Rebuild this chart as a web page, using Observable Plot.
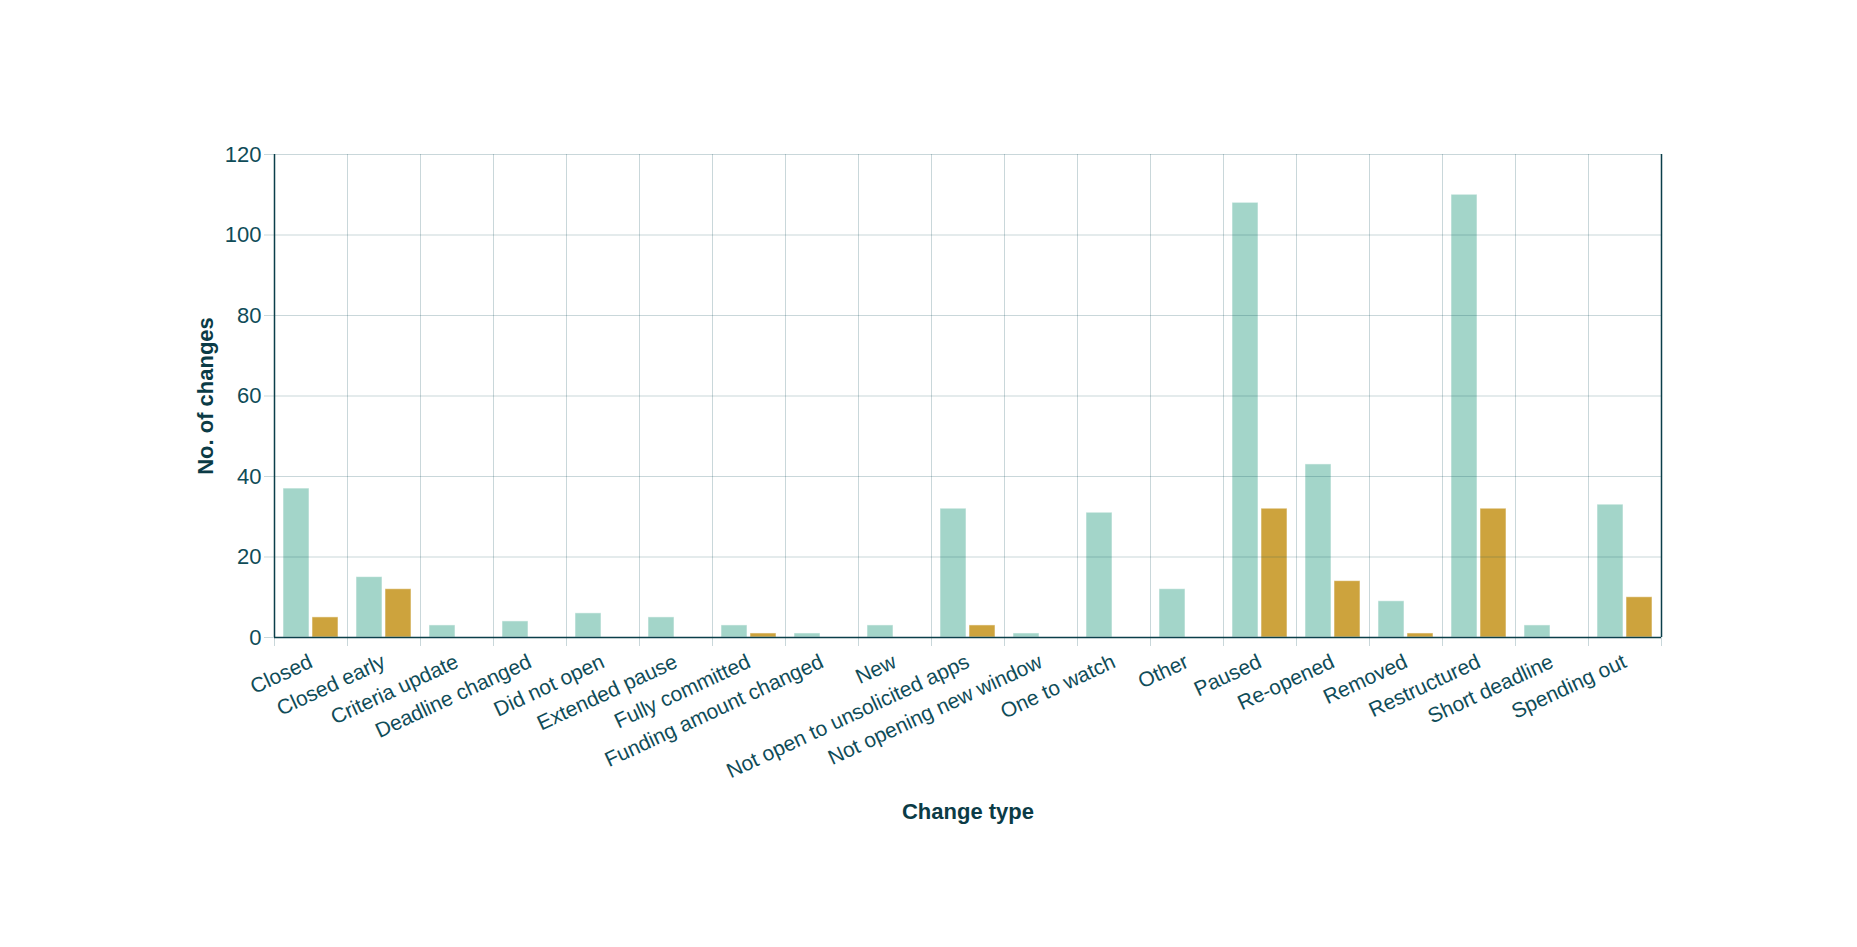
<!DOCTYPE html>
<html>
<head>
<meta charset="utf-8">
<script src="https://cdn.jsdelivr.net/npm/d3@7"></script>
<script src="https://cdn.jsdelivr.net/npm/@observablehq/plot@0.6"></script>
<style>
  html, body { margin: 0; padding: 0; background: #fff; }
  #chart svg { display: block; }
</style>
</head>
<body>
<div id="chart"></div>
<script>
const categories = [
  "Closed", "Closed early", "Criteria update", "Deadline changed", "Did not open",
  "Extended pause", "Fully committed", "Funding amount changed", "New",
  "Not open to unsolicited apps", "Not opening new window", "One to watch", "Other",
  "Paused", "Re-opened", "Removed", "Restructured", "Short deadline", "Spending out"
];
const seriesA = [37, 15, 3, 4, 6, 5, 3, 1, 3, 32, 1, 31, 12, 108, 43, 9, 110, 3, 33];
const seriesB = [5, 12, 0, 0, 0, 0, 1, 0, 0, 3, 0, 0, 0, 32, 14, 1, 32, 0, 10];
const yTicks = [0, 20, 40, 60, 80, 100, 120];

const tealColor = "#a3d5c9";
const goldColor = "#cda33d";
const textColor = "#0f4c58";
const titleColor = "#0b3b46";
const axisColor = "#0b3f4a";
const gridColor = "#0b4a55";

const rowsA = categories.map((c, i) => ({category: c, value: seriesA[i]})).filter(d => d.value > 0);
const rowsB = categories.map((c, i) => ({category: c, value: seriesB[i]})).filter(d => d.value > 0);

const W = 1857, H = 947;
const mL = 274, mR = W - 1661, mT = 154, mB = H - 637;
const bw = (W - mL - mR) / categories.length;

const chart = Plot.plot({
  width: W,
  height: H,
  marginLeft: mL,
  marginRight: mR,
  marginTop: mT,
  marginBottom: mB,
  style: {fontFamily: "'Liberation Sans', Arial, sans-serif", fontSize: "21px", color: textColor, background: "#fff"},
  x: {domain: categories, padding: 0, label: null},
  y: {domain: [0, 120], label: null},
  marks: [
    Plot.barY(rowsA, {x: "category", y: "value", fill: tealColor, insetLeft: 9, insetRight: bw - 35, stroke: "#ffffff", strokeOpacity: 0.55, strokeWidth: 1}),
    Plot.barY(rowsB, {x: "category", y: "value", fill: goldColor, insetLeft: bw - 35, insetRight: 9, stroke: "#ffffff", strokeOpacity: 0.55, strokeWidth: 1}),
    Plot.gridY(yTicks, {stroke: gridColor, strokeOpacity: 0.22, insetLeft: -10}),
    Plot.ruleX(categories, {x: d => d, dx: -bw / 2, stroke: gridColor, strokeOpacity: 0.22, insetBottom: -9}),
    Plot.ruleX(categories.slice(-1), {x: d => d, dx: bw / 2, stroke: gridColor, strokeOpacity: 0.22, insetBottom: -9}),
    Plot.ruleX(categories.slice(0, 1), {x: d => d, dx: -bw / 2, stroke: axisColor, strokeWidth: 1.5}),
    Plot.ruleX(categories.slice(-1), {x: d => d, dx: bw / 2, stroke: axisColor, strokeWidth: 1.5}),
    Plot.ruleY([0], {stroke: axisColor, strokeWidth: 1.5}),
    Plot.axisY(yTicks, {tickSize: 0, tickPadding: 13, fontSize: 22, fill: textColor, label: null}),
    Plot.axisX({tickSize: 0, tickRotate: -25, tickPadding: 23, fontSize: 21, fill: textColor, label: null}),
    Plot.text(["No. of changes"], {frameAnchor: "left", textAnchor: "middle", dx: -69, rotate: -90, fontSize: 22, fontWeight: "bold", fill: titleColor}),
    Plot.text(["Change type"], {frameAnchor: "bottom", dy: 181, fontSize: 22, fontWeight: "bold", fill: titleColor})
  ]
});
document.getElementById("chart").append(chart);
</script>
</body>
</html>
